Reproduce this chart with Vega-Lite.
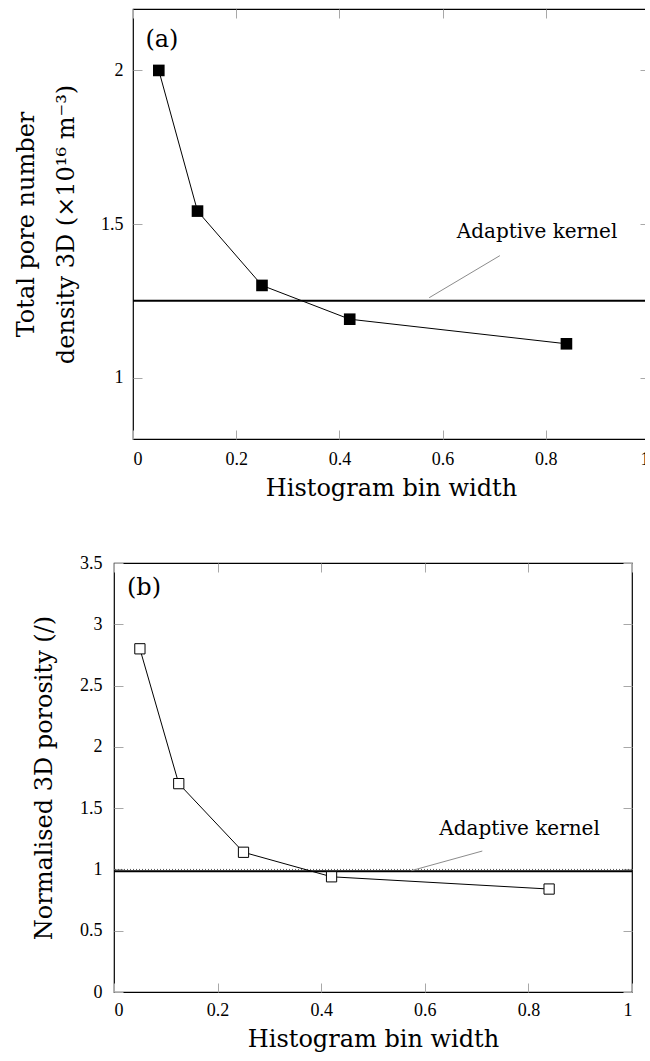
{
  "$schema": "https://vega.github.io/schema/vega-lite/v6.json",
  "padding": {"left": 12, "top": 7, "right": -6, "bottom": 0},
  "spacing": 52,
  "config": {
    "view": {"stroke": "#000", "strokeWidth": 1.2},
    "font": "DejaVu Serif",
    "axis": {
      "domain": false,
      "grid": false,
      "tickColor": "#a8a8a8",
      "tickSize": -9,
      "tickWidth": 1,
      "labelFont": "Liberation Serif",
      "labelFontSize": 18,
      "labelColor": "#000",
      "titleFont": "DejaVu Serif",
      "titleFontSize": 24,
      "titleFontWeight": "normal",
      "titleColor": "#000"
    }
  },
  "vconcat": [
    {
      "spacing": 0,
      "hconcat": [
        {
          "width": 1,
          "height": 1,
          "view": {"stroke": null},
          "data": {"values": []},
          "mark": {"type": "text"},
          "encoding": {"text": {"value": ""}}
        },
        {
          "width": 516,
          "height": 430,
          "resolve": {"axis": {"x": "independent", "y": "independent"}},
          "layer": [
            {
              "data": {"values": [{"kernel": 1.25}]},
              "mark": {"type": "rule", "color": "#000", "strokeWidth": 2},
              "encoding": {
                "y": {"field": "kernel", "type": "quantitative", "scale": {"domain": [0.8, 2.2], "nice": false, "zero": false}, "axis": null}
              }
            },
            {
              "data": {"name": "density"},
              "mark": {"type": "line", "color": "#000", "strokeWidth": 1},
              "encoding": {
                "x": {"field": "bin_width", "type": "quantitative", "scale": {"domain": [0, 1], "nice": false, "zero": false},
                      "axis": {"orient": "bottom", "values": [0, 0.2, 0.4, 0.6, 0.8, 1], "format": "~g", "labelPadding": 20, "title": "Histogram bin width", "titlePadding": 8}},
                "y": {"field": "density", "type": "quantitative", "scale": {"domain": [0.8, 2.2], "nice": false, "zero": false},
                      "axis": {"orient": "left", "values": [1, 1.5, 2], "format": "~g", "labelPadding": 19, "title": ["Total pore number", "density 3D (×10¹⁶ m⁻³)"], "titleLineHeight": 40, "titlePadding": 22}}
              }
            },
            {
              "data": {"name": "density"},
              "mark": {"type": "point", "shape": "square", "filled": true, "color": "#000", "size": 135, "opacity": 1},
              "encoding": {
                "x": {"field": "bin_width", "type": "quantitative", "scale": {"domain": [0, 1], "nice": false, "zero": false}, "axis": null},
                "y": {"field": "density", "type": "quantitative", "scale": {"domain": [0.8, 2.2], "nice": false, "zero": false}, "axis": null}
              }
            },
            {
              "data": {"values": [{"x0": 0.574, "y0": 1.26, "x1": 0.711, "y1": 1.397}]},
              "mark": {"type": "rule", "color": "#8c8c8c", "strokeWidth": 1},
              "encoding": {
                "x": {"field": "x0", "type": "quantitative", "scale": {"domain": [0, 1], "nice": false, "zero": false}, "axis": null},
                "y": {"field": "y0", "type": "quantitative", "scale": {"domain": [0.8, 2.2], "nice": false, "zero": false}, "axis": null},
                "x2": {"field": "x1"},
                "y2": {"field": "y1"}
              }
            },
            {
              "data": {"values": [{"label": "Adaptive kernel", "bw": 0.783, "v": 1.475}]},
              "mark": {"type": "text", "font": "DejaVu Serif", "fontSize": 20, "color": "#000", "align": "center", "baseline": "middle"},
              "encoding": {
                "x": {"field": "bw", "type": "quantitative", "scale": {"domain": [0, 1], "nice": false, "zero": false}, "axis": null},
                "y": {"field": "v", "type": "quantitative", "scale": {"domain": [0.8, 2.2], "nice": false, "zero": false}, "axis": null},
                "text": {"field": "label"}
              }
            },
            {
              "data": {"values": [{"tag": "(a)", "bw": 0.056, "v": 2.1}]},
              "mark": {"type": "text", "font": "DejaVu Serif", "fontSize": 24, "color": "#000", "align": "center", "baseline": "middle"},
              "encoding": {
                "x": {"field": "bw", "type": "quantitative", "scale": {"domain": [0, 1], "nice": false, "zero": false},
                      "axis": {"orient": "top", "values": [0, 0.2, 0.4, 0.6, 0.8, 1], "labels": false, "title": null}},
                "y": {"field": "v", "type": "quantitative", "scale": {"domain": [0.8, 2.2], "nice": false, "zero": false},
                      "axis": {"orient": "right", "values": [1, 1.5, 2], "labels": false, "title": null}},
                "text": {"field": "tag"}
              }
            }
          ]
        }
      ]
    },
    {
      "spacing": 18,
      "hconcat": [
        {
          "width": 1,
          "height": 1,
          "view": {"stroke": null},
          "data": {"values": []},
          "mark": {"type": "text"},
          "encoding": {"text": {"value": ""}}
        },
        {
          "width": 518,
          "height": 429,
          "resolve": {"axis": {"x": "independent", "y": "independent"}},
          "layer": [
            {
              "data": {"values": [{"kernel": 1.0}]},
              "mark": {"type": "rule", "color": "#555", "strokeWidth": 1, "strokeDash": [1, 2]},
              "encoding": {
                "y": {"field": "kernel", "type": "quantitative", "scale": {"domain": [0, 3.5], "nice": false, "zero": false}, "axis": null}
              }
            },
            {
              "data": {"values": [{"kernel": 0.985}]},
              "mark": {"type": "rule", "color": "#000", "strokeWidth": 2},
              "encoding": {
                "y": {"field": "kernel", "type": "quantitative", "scale": {"domain": [0, 3.5], "nice": false, "zero": false}, "axis": null}
              }
            },
            {
              "data": {"name": "porosity"},
              "mark": {"type": "line", "color": "#000", "strokeWidth": 1},
              "encoding": {
                "x": {"field": "bin_width", "type": "quantitative", "scale": {"domain": [0, 1], "nice": false, "zero": false},
                      "axis": {"orient": "bottom", "values": [0, 0.2, 0.4, 0.6, 0.8, 1], "format": "~g", "labelPadding": 18, "title": "Histogram bin width", "titlePadding": 8}},
                "y": {"field": "porosity", "type": "quantitative", "scale": {"domain": [0, 3.5], "nice": false, "zero": false},
                      "axis": {"orient": "left", "values": [0, 0.5, 1, 1.5, 2, 2.5, 3, 3.5], "format": "~g", "labelPadding": 21, "title": "Normalised 3D porosity (/)", "titlePadding": 23}}
              }
            },
            {
              "data": {"name": "porosity"},
              "mark": {"type": "point", "shape": "square", "filled": true, "fill": "#fff", "stroke": "#000", "strokeWidth": 1, "size": 105, "opacity": 1},
              "encoding": {
                "x": {"field": "bin_width", "type": "quantitative", "scale": {"domain": [0, 1], "nice": false, "zero": false}, "axis": null},
                "y": {"field": "porosity", "type": "quantitative", "scale": {"domain": [0, 3.5], "nice": false, "zero": false}, "axis": null}
              }
            },
            {
              "data": {"values": [{"x0": 0.574, "y0": 0.99, "x1": 0.711, "y1": 1.15}]},
              "mark": {"type": "rule", "color": "#8c8c8c", "strokeWidth": 1},
              "encoding": {
                "x": {"field": "x0", "type": "quantitative", "scale": {"domain": [0, 1], "nice": false, "zero": false}, "axis": null},
                "y": {"field": "y0", "type": "quantitative", "scale": {"domain": [0, 3.5], "nice": false, "zero": false}, "axis": null},
                "x2": {"field": "x1"},
                "y2": {"field": "y1"}
              }
            },
            {
              "data": {"values": [{"label": "Adaptive kernel", "bw": 0.783, "v": 1.33}]},
              "mark": {"type": "text", "font": "DejaVu Serif", "fontSize": 20, "color": "#000", "align": "center", "baseline": "middle"},
              "encoding": {
                "x": {"field": "bw", "type": "quantitative", "scale": {"domain": [0, 1], "nice": false, "zero": false}, "axis": null},
                "y": {"field": "v", "type": "quantitative", "scale": {"domain": [0, 3.5], "nice": false, "zero": false}, "axis": null},
                "text": {"field": "label"}
              }
            },
            {
              "data": {"values": [{"tag": "(b)", "bw": 0.058, "v": 3.3}]},
              "mark": {"type": "text", "font": "DejaVu Serif", "fontSize": 24, "color": "#000", "align": "center", "baseline": "middle"},
              "encoding": {
                "x": {"field": "bw", "type": "quantitative", "scale": {"domain": [0, 1], "nice": false, "zero": false},
                      "axis": {"orient": "top", "values": [0, 0.2, 0.4, 0.6, 0.8, 1], "labels": false, "title": null}},
                "y": {"field": "v", "type": "quantitative", "scale": {"domain": [0, 3.5], "nice": false, "zero": false},
                      "axis": {"orient": "right", "values": [0, 0.5, 1, 1.5, 2, 2.5, 3, 3.5], "labels": false, "title": null}},
                "text": {"field": "tag"}
              }
            }
          ]
        }
      ]
    }
  ],
  "datasets": {
    "density": [
      {"bin_width": 0.05, "density": 2.0},
      {"bin_width": 0.125, "density": 1.542},
      {"bin_width": 0.25, "density": 1.3},
      {"bin_width": 0.42, "density": 1.19},
      {"bin_width": 0.84, "density": 1.11}
    ],
    "porosity": [
      {"bin_width": 0.05, "porosity": 2.8},
      {"bin_width": 0.125, "porosity": 1.7},
      {"bin_width": 0.25, "porosity": 1.14},
      {"bin_width": 0.42, "porosity": 0.94},
      {"bin_width": 0.84, "porosity": 0.84}
    ]
  }
}
